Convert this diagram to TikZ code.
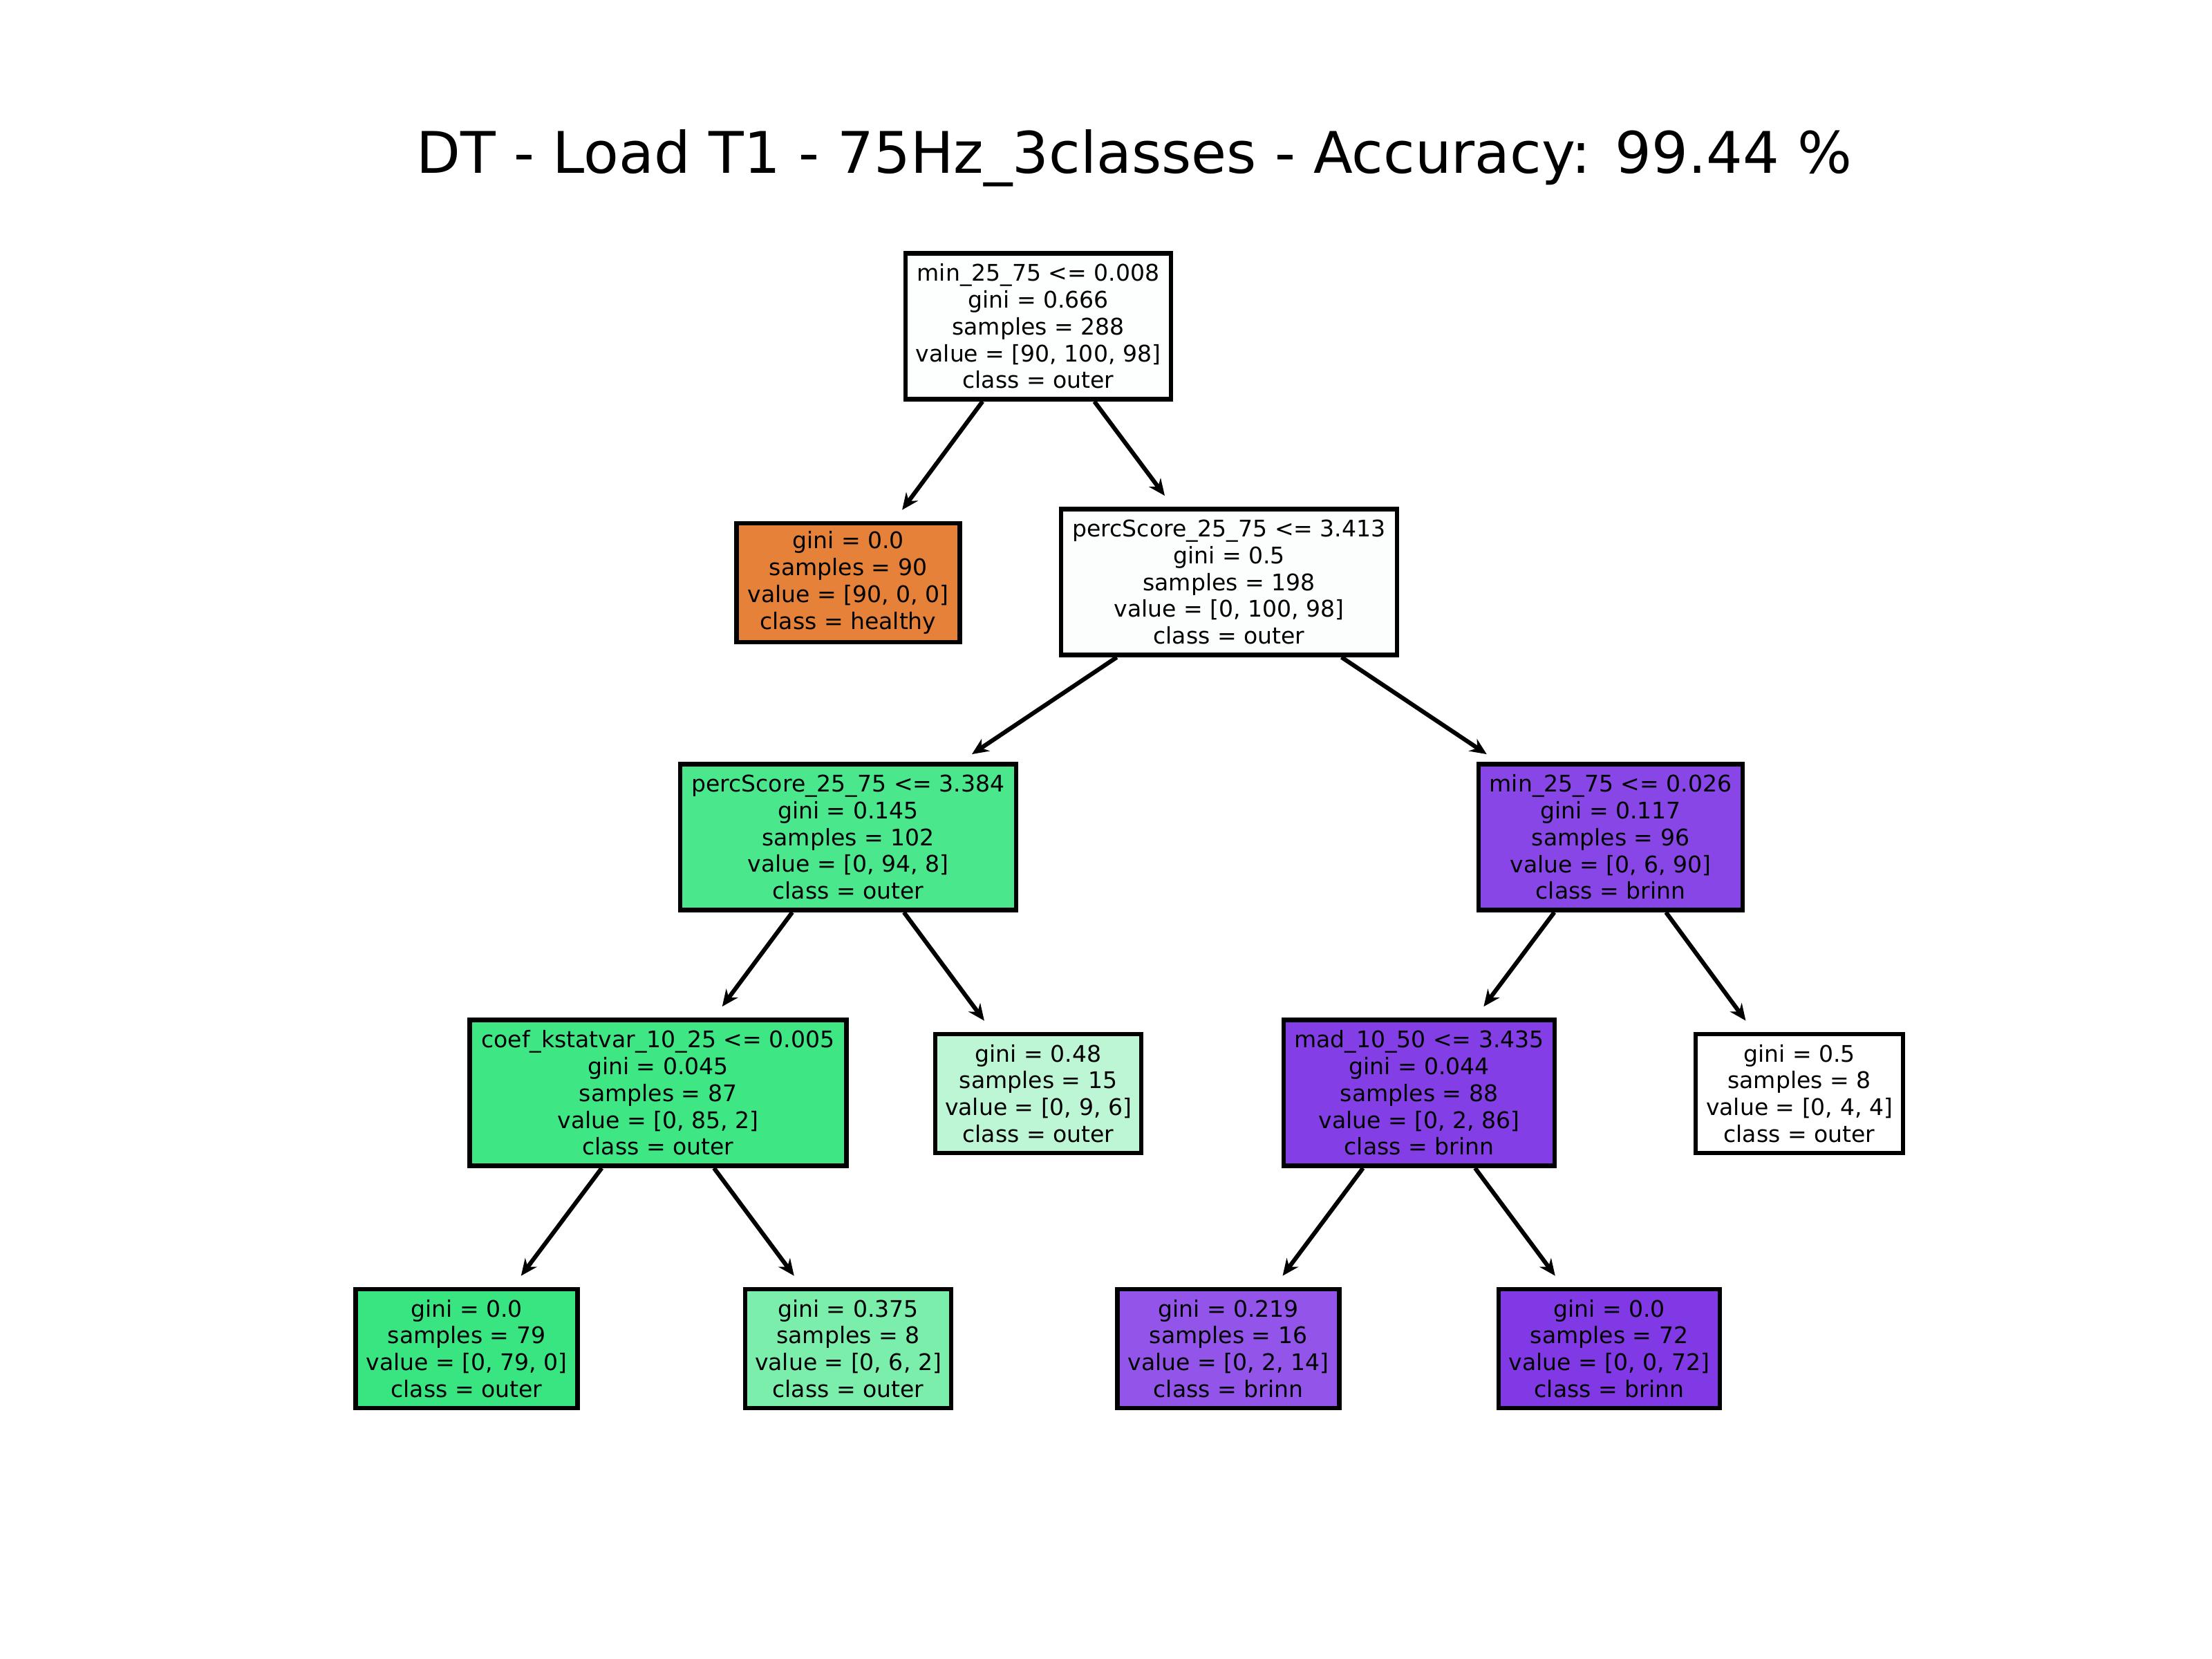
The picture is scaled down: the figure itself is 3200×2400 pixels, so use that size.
\documentclass[tikz,border=0pt]{standalone}
\usepackage{fontspec}
\setmainfont{DejaVu Sans}
\usetikzlibrary{arrows.meta}
\definecolor{cRoot}{HTML}{FDFFFE}
\definecolor{cHealthy}{HTML}{E58139}
\definecolor{cPA}{HTML}{FBFEFC}
\definecolor{cPB}{HTML}{4AE78C}
\definecolor{cMB}{HTML}{8946E7}
\definecolor{cCoef}{HTML}{3EE684}
\definecolor{cG48}{HTML}{BDF6D5}
\definecolor{cMad}{HTML}{843EE6}
\definecolor{cG5}{HTML}{FFFFFF}
\definecolor{cL79}{HTML}{39E581}
\definecolor{cL375}{HTML}{7BEEAB}
\definecolor{cL219}{HTML}{9355E9}
\definecolor{cL72}{HTML}{8139E5}
\begin{document}
\begin{tikzpicture}[x=0.01cm,y=-0.01cm,
  tn/.style={draw=black, line width=1.85pt, align=center, inner sep=0pt,
    font=\fontsize{9.4pt}{11.04pt}\selectfont, text=black},
  five/.style={minimum height=2.11cm},
  four/.style={minimum height=1.72cm},
  edge/.style={-{Stealth[length=0.24cm,width=0.21cm]}, line width=1.75pt, shorten >=0.2cm}]
\useasboundingbox[fill=white] (0,0) rectangle (3200,2400);
\node[anchor=base, font=\fontsize{23.6pt}{28pt}\selectfont] (title) at (1641,251)
  {DT - Load T1 - 75Hz\_3classes - Accuracy: 99.44 \%};

\node[tn, five, fill=cRoot, minimum width=3.84cm] (root) at (1502,472)
  {min\_25\_75 <= 0.008\\gini = 0.666\\samples = 288\\value = [90, 100, 98]\\class = outer};
\node[tn, four, fill=cHealthy, minimum width=3.23cm] (healthy) at (1227,843)
  {gini = 0.0\\samples = 90\\value = [90, 0, 0]\\class = healthy};
\node[tn, five, fill=cPA, minimum width=4.86cm] (pa) at (1778,842)
  {percScore\_25\_75 <= 3.413\\gini = 0.5\\samples = 198\\value = [0, 100, 98]\\class = outer};
\node[tn, five, fill=cPB, minimum width=4.86cm] (pb) at (1227,1211)
  {percScore\_25\_75 <= 3.384\\gini = 0.145\\samples = 102\\value = [0, 94, 8]\\class = outer};
\node[tn, five, fill=cMB, minimum width=3.82cm] (mb) at (2330,1211)
  {min\_25\_75 <= 0.026\\gini = 0.117\\samples = 96\\value = [0, 6, 90]\\class = brinn};
\node[tn, five, fill=cCoef, minimum width=5.45cm] (coef) at (952,1581)
  {coef\_kstatvar\_10\_25 <= 0.005\\gini = 0.045\\samples = 87\\value = [0, 85, 2]\\class = outer};
\node[tn, four, fill=cG48, minimum width=2.98cm] (g48) at (1502,1582)
  {gini = 0.48\\samples = 15\\value = [0, 9, 6]\\class = outer};
\node[tn, five, fill=cMad, minimum width=3.92cm] (mad) at (2053,1581)
  {mad\_10\_50 <= 3.435\\gini = 0.044\\samples = 88\\value = [0, 2, 86]\\class = brinn};
\node[tn, four, fill=cG5, minimum width=3.00cm] (g5) at (2603,1582)
  {gini = 0.5\\samples = 8\\value = [0, 4, 4]\\class = outer};
\node[tn, four, fill=cL79, minimum width=3.21cm] (l79) at (675,1951)
  {gini = 0.0\\samples = 79\\value = [0, 79, 0]\\class = outer};
\node[tn, four, fill=cL375, minimum width=2.98cm] (l375) at (1227,1951)
  {gini = 0.375\\samples = 8\\value = [0, 6, 2]\\class = outer};
\node[tn, four, fill=cL219, minimum width=3.21cm] (l219) at (1777,1951)
  {gini = 0.219\\samples = 16\\value = [0, 2, 14]\\class = brinn};
\node[tn, four, fill=cL72, minimum width=3.20cm] (l72) at (2328,1951)
  {gini = 0.0\\samples = 72\\value = [0, 0, 72]\\class = brinn};

\draw[edge] (root) -- (healthy);
\draw[edge] (root) -- (pa);
\draw[edge] (pa) -- (pb);
\draw[edge] (pa) -- (mb);
\draw[edge] (pb) -- (coef);
\draw[edge] (pb) -- (g48);
\draw[edge] (mb) -- (mad);
\draw[edge] (mb) -- (g5);
\draw[edge] (coef) -- (l79);
\draw[edge] (coef) -- (l375);
\draw[edge] (mad) -- (l219);
\draw[edge] (mad) -- (l72);
\end{tikzpicture}
\end{document}
